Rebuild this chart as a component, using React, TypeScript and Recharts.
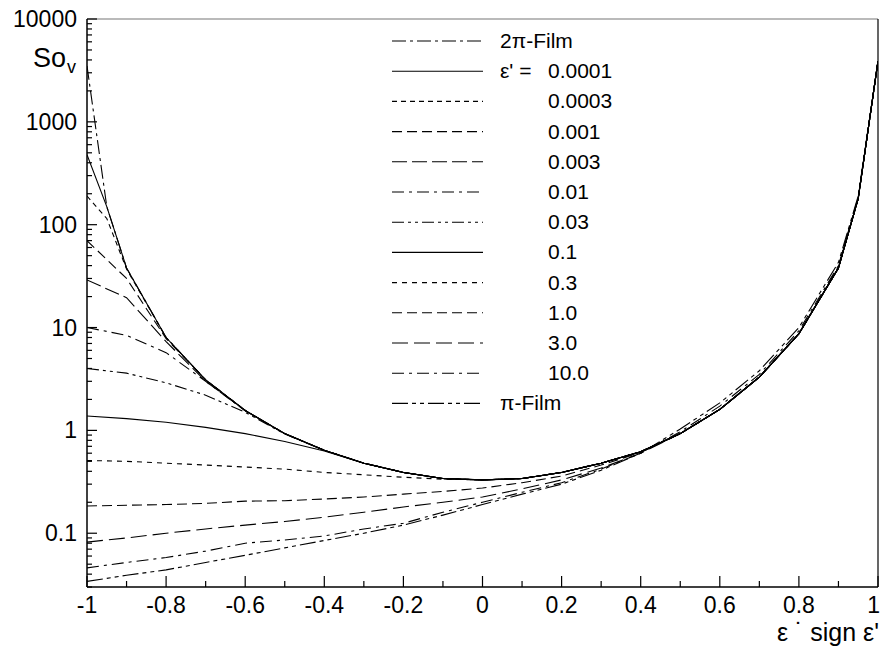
import React from 'react';
import { LineChart, Line, XAxis, YAxis, ReferenceLine } from 'recharts';

const FONT = '"Liberation Sans", Arial, Helvetica, sans-serif';

// abscissa: eps * sign eps'
const xValues = [-1, -0.95, -0.9, -0.8, -0.7, -0.6, -0.5, -0.4, -0.3, -0.2, -0.1, 0, 0.1, 0.2, 0.3, 0.4, 0.5, 0.6, 0.7, 0.8, 0.9, 0.95, 1];

// So_v for each curve (null = no point there)
const film2pi = [3500, 150, 38, 8, 3.1, 1.56, 0.93, 0.64, 0.48, 0.39, 0.34, 0.33, 0.34, 0.39, 0.48, 0.62, 0.93, 1.6, 3.3, 8.7, 38, 180, 3900];
const eps0001 = [480, 150, 38, 8, 3.1, 1.56, 0.93, 0.64, 0.48, 0.39, 0.34, 0.33, 0.34, 0.39, 0.48, 0.62, 0.93, 1.6, 3.3, 8.7, 38, 180, 3900];
const eps0003 = [190, 115, 37, 8, 3.1, 1.56, 0.93, 0.64, 0.48, 0.39, 0.34, 0.33, 0.34, 0.39, 0.48, 0.62, 0.93, 1.6, 3.3, 8.7, 38, 180, 3900];
const eps001 = [70, null, 30, 7.8, 3.1, 1.56, 0.93, 0.64, 0.48, 0.39, 0.34, 0.33, 0.34, 0.39, 0.48, 0.62, 0.93, 1.6, 3.3, 8.7, 38, 180, 3900];
const eps003 = [29, null, 19.5, 7.3, 3.0, 1.56, 0.93, 0.64, 0.48, 0.39, 0.34, 0.33, 0.34, 0.39, 0.48, 0.62, 0.93, 1.6, 3.3, 8.7, 38, 180, 3900];
const eps01 = [10, null, 8.4, 5.7, 3.0, 1.55, 0.93, 0.64, 0.48, 0.39, 0.34, 0.33, 0.34, 0.39, 0.48, 0.62, 0.93, 1.6, 3.3, 8.7, 38, 180, 3900];
const eps03 = [4.0, null, 3.6, 2.9, 2.2, 1.5, 0.92, 0.64, 0.48, 0.39, 0.34, 0.33, 0.34, 0.39, 0.48, 0.62, 0.93, 1.6, 3.3, 8.7, 38, 180, 3900];
const eps1 = [1.38, null, 1.3, 1.2, 1.07, 0.93, 0.78, 0.63, 0.48, 0.39, 0.34, 0.33, 0.34, 0.39, 0.48, 0.62, 0.93, 1.6, 3.3, 8.7, 38, 180, 3900];
const eps3 = [0.51, null, 0.5, 0.48, 0.46, 0.44, 0.42, 0.39, 0.37, 0.35, 0.335, 0.33, 0.34, 0.39, 0.48, 0.62, 0.93, 1.6, 3.3, 8.7, 38, 180, 3900];
const eps10 = [0.184, null, 0.187, 0.19, 0.195, 0.205, 0.207, 0.215, 0.225, 0.24, 0.255, 0.275, 0.31, 0.36, 0.46, 0.61, 0.93, 1.6, 3.3, 8.7, 38, 180, 3900];
const eps30 = [0.082, null, 0.09, 0.1, 0.11, 0.12, 0.13, 0.143, 0.16, 0.18, 0.2, 0.225, 0.27, 0.33, 0.43, 0.6, 0.93, 1.6, 3.3, 8.7, 38, 180, 3900];
const eps100 = [0.046, null, 0.052, 0.058, 0.067, 0.08, 0.086, 0.094, 0.11, 0.125, 0.16, 0.2, 0.25, 0.31, 0.42, 0.6, 0.97, 1.72, 3.5, 9.3, 40, 185, 3900];
const filmPi = [0.034, null, 0.039, 0.044, 0.052, 0.061, 0.072, 0.085, 0.1, 0.12, 0.15, 0.19, 0.24, 0.3, 0.41, 0.6, 1.03, 1.85, 3.8, 10, 43, 190, 3900];

const seriesNames = ['2π-Film', '0.0001', '0.0003', '0.001', '0.003', '0.01', '0.03', '0.1', '0.3', '1.0', '3.0', '10.0', 'π-Film'];
const seriesValues = [film2pi, eps0001, eps0003, eps001, eps003, eps01, eps03, eps1, eps3, eps10, eps30, eps100, filmPi];
const seriesDash = ['14 4 3 4', undefined, '5 4', '10 5', '15 5', '12 5 3 5', '12 4 3 4 3 4', undefined, '5 5', '10 5', '16 6', '12 5 3 5', '16 4 4 4 4 4'];

const xTickLabels = ['-1', '-0.8', '-0.6', '-0.4', '-0.2', '0', '0.2', '0.4', '0.6', '0.8', '1'];
const yTickLabels = ['0.1', '1', '10', '100', '1000', '10000'];

const xTicks = Array.from({ length: 21 }, (_, i) => Number((-1 + i * 0.1).toFixed(1)));
const yTicks: number[] = [];
[0.01, 0.1, 1, 10, 100, 1000].forEach((d) => {
  for (let m = 1; m <= 9; m++) {
    const v = Number((m * d).toPrecision(6));
    if (v >= 0.03) yTicks.push(v);
  }
});
yTicks.push(10000);

const data = xValues.map((x, i) => {
  const row: Record<string, number | null> = { x };
  seriesValues.forEach((vals, k) => {
    row['s' + k] = vals[i];
  });
  return row;
});

const XTick = (props: any) => {
  const { x, y, payload } = props;
  const idx = Math.round((payload.value + 1) * 10);
  const major = idx % 2 === 0;
  const last = idx === 20;
  return (
    <g>
      <line x1={x} x2={x} y1={y} y2={y - (major ? 11 : 6)} stroke="#000" strokeWidth={1.2} />
      {major && (
        <text x={last ? x + 2 : x} y={y + 26} textAnchor={last ? 'end' : 'middle'} fontSize={23} fontFamily={FONT} fill="#000">
          {xTickLabels[idx / 2]}
        </text>
      )}
    </g>
  );
};

const YTick = (props: any) => {
  const { x, y, payload } = props;
  const lg = Math.log10(payload.value);
  const major = Math.abs(lg - Math.round(lg)) < 1e-6;
  return (
    <g>
      <line x1={x} x2={x + (major ? 10 : 5)} y1={y} y2={y} stroke="#000" strokeWidth={1.2} />
      {major && (
        <text x={x - 10} y={y + 8} textAnchor="end" fontSize={23} fontFamily={FONT} fill="#000">
          {yTickLabels[Math.round(lg) + 1]}
        </text>
      )}
    </g>
  );
};

export default function App() {
  return (
    <div style={{ position: 'absolute', left: 0, top: 0, width: 880, height: 648, background: '#fff' }}>
      <LineChart width={880} height={648} data={data} margin={{ top: 19, right: 2, left: 27, bottom: 21 }}>
        <XAxis
          type="number"
          dataKey="x"
          domain={[-1, 1]}
          ticks={xTicks}
          interval={0}
          tickSize={0}
          tickMargin={0}
          tickLine={false}
          tick={<XTick />}
          height={40}
          axisLine={{ stroke: '#000', strokeWidth: 1.5 }}
          allowDataOverflow
        />
        <YAxis
          type="number"
          scale="log"
          domain={[0.03, 10000]}
          ticks={yTicks}
          interval={0}
          tickSize={0}
          tickMargin={0}
          tickLine={false}
          tick={<YTick />}
          width={60}
          axisLine={{ stroke: '#000', strokeWidth: 1.5 }}
          allowDataOverflow
        />
        <ReferenceLine y={10000} stroke="#777" strokeWidth={1.2} />
        <ReferenceLine x={1} stroke="#000" strokeWidth={1.2} />
        {seriesValues.map((_, k) => (
          <Line
            key={k}
            type="linear"
            dataKey={'s' + k}
            name={seriesNames[k]}
            stroke="#000"
            strokeWidth={1.1}
            strokeDasharray={seriesDash[k]}
            dot={false}
            connectNulls
            isAnimationActive={false}
          />
        ))}
      </LineChart>
      <svg width={880} height={648} style={{ position: 'absolute', left: 0, top: 0, pointerEvents: 'none' }}>
        <text x={33} y={67} fontSize={27} fontFamily={FONT} fill="#000">
          So
        </text>
        <text x={67} y={73} fontSize={18} fontFamily={FONT} fill="#000">
          v
        </text>
        <text x={879} y={641} textAnchor="end" fontSize={25} fontFamily={FONT} fill="#000">
          ε ˙ sign ε'
        </text>
        {seriesNames.map((name, k) => {
          const y = 41 + k * 30.2;
          const isFilm = k === 0 || k === seriesNames.length - 1;
          return (
            <g key={k}>
              <line x1={392} x2={483} y1={y} y2={y} stroke="#000" strokeWidth={1.1} strokeDasharray={seriesDash[k]} />
              {k === 1 && (
                <text x={500} y={y + 7} fontSize={21} fontFamily={FONT} fill="#000">
                  ε' =
                </text>
              )}
              <text x={isFilm ? 500 : 548} y={y + 7} fontSize={21} fontFamily={FONT} fill="#000">
                {name}
              </text>
            </g>
          );
        })}
      </svg>
    </div>
  );
}
